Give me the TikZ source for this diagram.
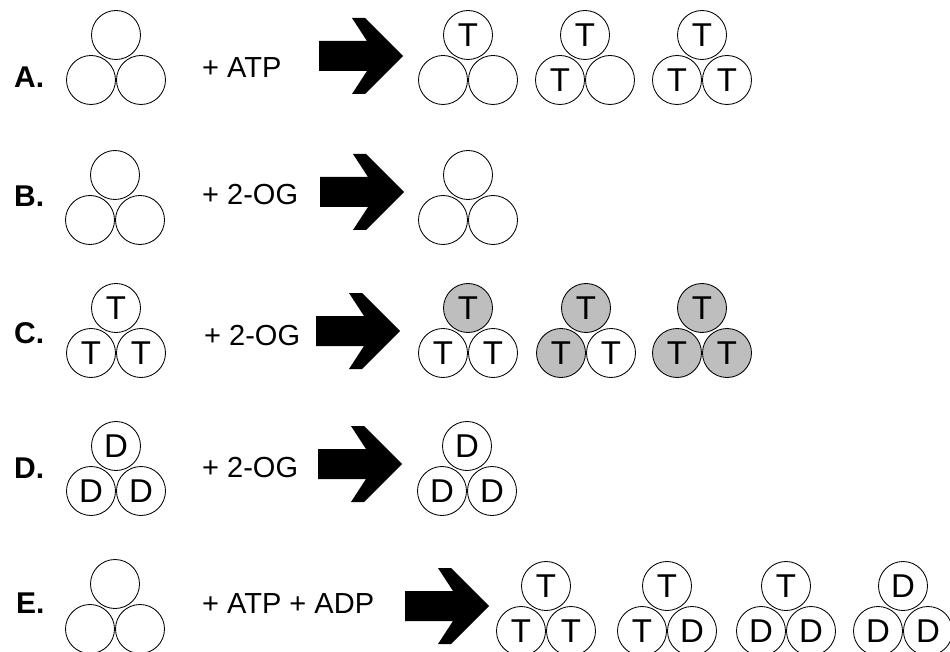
\documentclass[tikz,border=0pt]{standalone}
\usepackage{fontspec}
\setmainfont{Liberation Sans}
\definecolor{actgray}{RGB}{190,190,190}

% three subunits: top circle at (#2,#3), two below it
% #1 name, #4-#6 letters (top, left, right), #7-#9 styles (top, left, right)
\newcommand\trio[9]{%
  \node[#7] (#1-t) at (#2,#3) {#4};
  \node[#8] (#1-l) at (#2-25,#3+45) {#5};
  \node[#9] (#1-r) at (#2+25,#3+45) {#6};
}

\begin{document}
\begin{tikzpicture}[x=1pt,y=-1pt,
  sub/.style={circle, draw=black, line width=0.85pt, minimum size=49pt,
    inner sep=0pt, fill=white, font=\fontsize{33}{33}\selectfont},
  act/.style={sub, fill=actgray},
  rowlabel/.style={anchor=base west, inner sep=0pt,
    font=\fontsize{30}{30}\selectfont\bfseries},
  addend/.style={anchor=base west, inner sep=0pt,
    font=\fontsize{29}{29}\selectfont},
  % thick arrow with a chevron-shaped head
  blockarrow/.pic={\fill[black] (0,-15) -- (48,-15) -- (33,-38) -- (46,-38)
    -- (84,0) -- (46,38) -- (33,38) -- (48,15) -- (0,15) -- cycle;}]
\useasboundingbox (0,0) rectangle (950,652);

% A
\node[rowlabel] (labA) at (14,88) {A.};
\trio{a0}{116}{35}{}{}{}{sub}{sub}{sub}
\node[addend] (addA) at (202,78) {+ ATP};
\pic (arrA) at (319,56) {blockarrow};
\trio{a1}{468}{35}{T}{}{}{sub}{sub}{sub}
\trio{a2}{585}{35}{T}{T}{}{sub}{sub}{sub}
\trio{a3}{702}{35}{T}{T}{T}{sub}{sub}{sub}

% B
\node[rowlabel] (labB) at (14,207) {B.};
\trio{b0}{115}{175}{}{}{}{sub}{sub}{sub}
\node[addend] (addB) at (202,205) {+ 2-OG};
\pic (arrB) at (320,192) {blockarrow};
\trio{b1}{468}{175}{}{}{}{sub}{sub}{sub}

% C
\node[rowlabel] (labC) at (14,343) {C.};
\trio{c0}{116}{308}{T}{T}{T}{sub}{sub}{sub}
\node[addend] (addC) at (204,345) {+ 2-OG};
\pic (arrC) at (316,331) {blockarrow};
\trio{c1}{468}{308}{T}{T}{T}{act}{sub}{sub}
\trio{c2}{586}{308}{T}{T}{T}{act}{act}{sub}
\trio{c3}{702}{308}{T}{T}{T}{act}{act}{act}

% D
\node[rowlabel] (labD) at (14,478) {D.};
\trio{d0}{116}{446}{D}{D}{D}{sub}{sub}{sub}
\node[addend] (addD) at (202,477) {+ 2-OG};
\pic (arrD) at (318,464) {blockarrow};
\trio{d1}{467}{446}{D}{D}{D}{sub}{sub}{sub}

% E
\node[rowlabel] (labE) at (16,613) {E.};
\trio{e0}{115}{584}{}{}{}{sub}{sub}{sub}
\node[addend] (addE) at (202,613) {+ ATP + ADP};
\pic (arrE) at (405,606) {blockarrow};
\trio{e1}{546}{586}{T}{T}{T}{sub}{sub}{sub}
\trio{e2}{667}{586}{T}{T}{D}{sub}{sub}{sub}
\trio{e3}{786}{586}{T}{D}{D}{sub}{sub}{sub}
\trio{e4}{903}{586}{D}{D}{D}{sub}{sub}{sub}
\end{tikzpicture}
\end{document}
